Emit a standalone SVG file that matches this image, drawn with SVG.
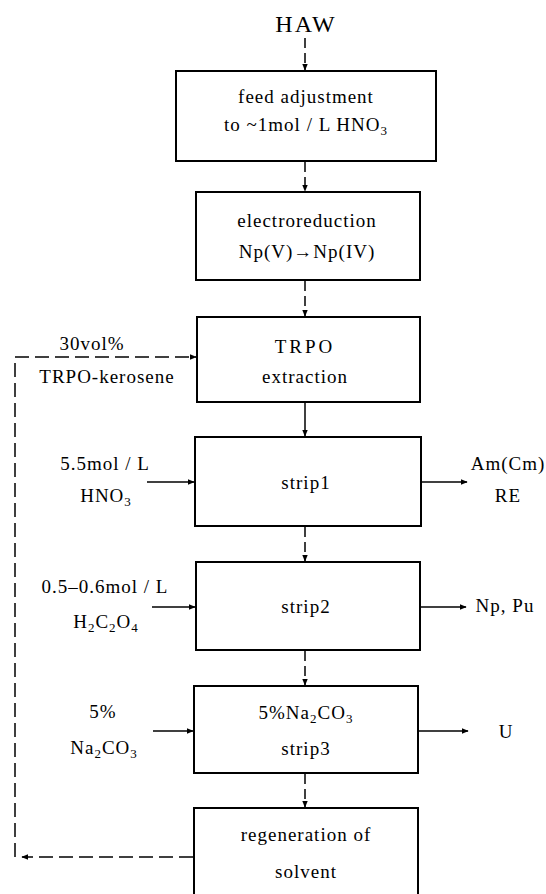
<svg xmlns="http://www.w3.org/2000/svg" width="546" height="894" viewBox="0 0 546 894">
<style>
  .box{fill:#fff;stroke:#000;stroke-width:2}
  .t{font-family:"Liberation Serif","Times New Roman",serif;font-size:19px;fill:#000;text-anchor:middle;letter-spacing:1px}
  .c{fill:none;stroke:#000;stroke-width:1.5}
  .d{stroke-dasharray:10 5}
  .fb{fill:none;stroke:#000;stroke-width:1.5;stroke-dasharray:14 6}
</style>
<defs>
  <marker id="ah" viewBox="0 0 10 10" refX="9" refY="5" markerWidth="7" markerHeight="7" orient="auto" markerUnits="userSpaceOnUse">
    <path d="M0,1 L10,5 L0,9 Z" fill="#000"/>
  </marker>
</defs>
<rect width="546" height="894" fill="#fff"/>

<g id="haw"><text class="t" x="306" y="32" style="font-size:24px;letter-spacing:2px">HAW</text></g>

<g id="feed">
  <rect class="box" x="176" y="71" width="260" height="90"/>
  <text class="t" x="306" y="103">feed adjustment</text>
  <text class="t" x="306" y="131">to ~1mol / L HNO<tspan font-size="13" dy="4">3</tspan></text>
</g>

<g id="electro">
  <rect class="box" x="196" y="192" width="224" height="88"/>
  <text class="t" x="307" y="227">electroreduction</text>
  <text class="t" x="307" y="258">Np(V)→Np(IV)</text>
</g>

<g id="trpo">
  <rect class="box" x="197" y="317" width="223" height="85"/>
  <text class="t" x="305" y="353" style="letter-spacing:3px">TRPO</text>
  <text class="t" x="305" y="383">extraction</text>
</g>

<g id="solventfeed">
  <text class="t" x="92" y="350">30vol%</text>
  <text class="t" x="107" y="383">TRPO-kerosene</text>
</g>

<g id="strip1">
  <rect class="box" x="195" y="437" width="226" height="89"/>
  <text class="t" x="306" y="489">strip1</text>
</g>
<g id="in1">
  <text class="t" x="105" y="470">5.5mol / L</text>
  <text class="t" x="106" y="502">HNO<tspan font-size="13" dy="4">3</tspan></text>
</g>
<g id="out1">
  <text class="t" x="508" y="470">Am(Cm)</text>
  <text class="t" x="508" y="502">RE</text>
</g>

<g id="strip2">
  <rect class="box" x="196" y="562" width="224" height="88"/>
  <text class="t" x="306" y="613">strip2</text>
</g>
<g id="in2">
  <text class="t" x="105" y="593">0.5–0.6mol / L</text>
  <text class="t" x="106" y="628">H<tspan font-size="13" dy="4">2</tspan><tspan dy="-4">C</tspan><tspan font-size="13" dy="4">2</tspan><tspan dy="-4">O</tspan><tspan font-size="13" dy="4">4</tspan></text>
</g>
<g id="out2"><text class="t" x="505" y="612">Np, Pu</text></g>

<g id="strip3">
  <rect class="box" x="194" y="686" width="224" height="87"/>
  <text class="t" x="306" y="719">5%Na<tspan font-size="13" dy="4">2</tspan><tspan dy="-4">CO</tspan><tspan font-size="13" dy="4">3</tspan></text>
  <text class="t" x="306" y="755">strip3</text>
</g>
<g id="in3">
  <text class="t" x="103" y="718">5%</text>
  <text class="t" x="104" y="754">Na<tspan font-size="13" dy="4">2</tspan><tspan dy="-4">CO</tspan><tspan font-size="13" dy="4">3</tspan></text>
</g>
<g id="out3"><text class="t" x="506" y="738">U</text></g>

<g id="regen">
  <path class="box" d="M194,900 L194,808 L418,808 L418,900"/>
  <text class="t" x="306" y="841">regeneration of</text>
  <text class="t" x="306" y="878">solvent</text>
</g>

<g id="connectors">
  <line class="c d" x1="305" y1="38" x2="305" y2="70" marker-end="url(#ah)"/>
  <line class="c d" x1="305" y1="162" x2="305" y2="191" marker-end="url(#ah)"/>
  <line class="c d" x1="305" y1="281" x2="305" y2="316" marker-end="url(#ah)"/>
  <line class="c" x1="305" y1="403" x2="305" y2="436" marker-end="url(#ah)"/>
  <line class="c d" x1="305" y1="527" x2="305" y2="561" marker-end="url(#ah)"/>
  <line class="c d" x1="305" y1="651" x2="305" y2="685" marker-end="url(#ah)"/>
  <line class="c d" x1="305" y1="774" x2="305" y2="807" marker-end="url(#ah)"/>

  <line class="c" x1="147" y1="482" x2="194" y2="482" marker-end="url(#ah)"/>
  <line class="c" x1="422" y1="482" x2="467" y2="482" marker-end="url(#ah)"/>
  <line class="c" x1="152" y1="607" x2="195" y2="607" marker-end="url(#ah)"/>
  <line class="c" x1="421" y1="607" x2="466" y2="607" marker-end="url(#ah)"/>
  <line class="c" x1="153" y1="731" x2="193" y2="731" marker-end="url(#ah)"/>
  <line class="c" x1="419" y1="731" x2="468" y2="731" marker-end="url(#ah)"/>

  <line class="fb" x1="193" y1="857" x2="22" y2="857" marker-end="url(#ah)"/>
  <path class="fb" d="M15,857 L15,357 L196,357" marker-end="url(#ah)"/>
</g>
</svg>
